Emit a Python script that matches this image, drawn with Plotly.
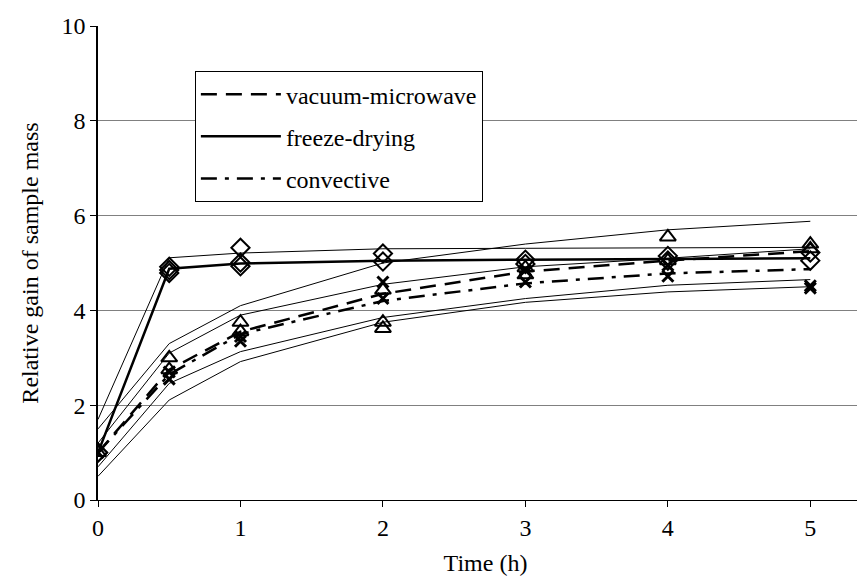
import plotly.graph_objects as go

times = [0, 0.5, 1, 2, 3, 4, 5]

# mean curves
vacuum_mean = [1.0, 2.75, 3.55, 4.35, 4.82, 5.05, 5.25]
freeze_mean = [1.0, 4.88, 4.99, 5.05, 5.07, 5.08, 5.10]
convective_mean = [1.0, 2.65, 3.50, 4.20, 4.57, 4.78, 4.87]

# thin envelope curves
vacuum_upper = [1.5, 3.30, 4.10, 5.00, 5.40, 5.70, 5.88]
vacuum_lower = [0.7, 2.46, 3.13, 3.85, 4.25, 4.53, 4.65]
convective_upper = [1.2, 3.10, 3.90, 4.55, 4.92, 5.10, 5.30]
convective_lower = [0.5, 2.11, 2.92, 3.75, 4.17, 4.39, 4.50]
freeze_upper = [1.7, 5.11, 5.21, 5.30, 5.31, 5.32, 5.33]

# measured points
freeze_t = [0, 0, 0.5, 0.5, 0.5, 1, 1, 1, 2, 2, 3, 3, 4, 4, 5, 5]
freeze_v = [1.0, 1.0, 4.92, 4.85, 4.79, 5.32, 5.01, 4.93, 5.20, 5.03, 5.07, 4.98, 5.15, 5.05, 5.22, 5.05]
vacuum_t = [0, 0.5, 0.5, 1, 1, 2, 2, 2, 3, 3, 4, 4, 5, 5]
vacuum_v = [1.0, 3.00, 2.75, 3.75, 3.55, 4.43, 3.75, 3.62, 4.90, 4.75, 5.55, 5.05, 5.40, 5.30]
convective_t = [0, 0.5, 0.5, 1, 1, 2, 2, 3, 3, 4, 4, 5, 5]
convective_v = [1.0, 2.55, 2.70, 3.45, 3.35, 4.60, 4.25, 4.85, 4.60, 4.95, 4.72, 4.52, 4.47]

y_ticks = [0, 2, 4, 6, 8, 10]
x_ticks = [0, 1, 2, 3, 4, 5]

FONT = "Liberation Serif, Times New Roman, serif"
FS = 24
fig = go.Figure()

for ys in [vacuum_upper, vacuum_lower, convective_upper, convective_lower, freeze_upper]:
    fig.add_trace(go.Scatter(x=times, y=ys, mode="lines", line=dict(color="black", width=1),
                             showlegend=False, hoverinfo="skip"))

fig.add_trace(go.Scatter(x=vacuum_t, y=vacuum_v, mode="markers", showlegend=False,
                         marker=dict(symbol="triangle-up-open", size=14, color="black", line=dict(width=2))))
fig.add_trace(go.Scatter(x=freeze_t, y=freeze_v, mode="markers", showlegend=False,
                         marker=dict(symbol="diamond-open", size=14, color="black", line=dict(width=2))))
fig.add_trace(go.Scatter(x=convective_t, y=convective_v, mode="markers", showlegend=False,
                         marker=dict(symbol="x-thin", size=11, color="black", line=dict(width=3, color="black"))))

fig.add_trace(go.Scatter(x=times, y=vacuum_mean, mode="lines", name="vacuum-microwave", legendgroup="a",
                         line=dict(color="black", width=2.5, dash="16px,9px")))
fig.add_trace(go.Scatter(x=times, y=freeze_mean, mode="lines", name="freeze-drying", legendgroup="b",
                         line=dict(color="black", width=2.5)))
fig.add_trace(go.Scatter(x=times, y=convective_mean, mode="lines", name="convective", legendgroup="c",
                         line=dict(color="black", width=2.5, dash="16px,8px,4px,8px")))

fig.update_layout(
    width=865, height=586,
    margin=dict(l=90, r=0, t=18, b=94),
    paper_bgcolor="white", plot_bgcolor="white",
    font=dict(family=FONT, size=FS, color="black"),
    showlegend=True,
    legend=dict(x=0.125, y=0.905, xanchor="left", yanchor="top",
                bordercolor="black", borderwidth=1, bgcolor="white",
                font=dict(family=FONT, size=FS), itemwidth=80,
                traceorder="grouped", tracegroupgap=8),
    xaxis=dict(range=[0, 5.44], tickvals=x_ticks, ticktext=[str(v) for v in x_ticks],
               showgrid=False, zeroline=False, showline=True, linecolor="black", linewidth=1,
               ticks="outside", ticklen=6, tickcolor="black", automargin=False,
               title=dict(text="Time (h)", font=dict(family=FONT, size=FS), standoff=14)),
    yaxis=dict(range=[0, 10], tickvals=y_ticks, ticktext=[str(v) for v in y_ticks],
               showgrid=True, gridcolor="#808080", gridwidth=1, zeroline=False,
               showline=True, linecolor="black", linewidth=1.5,
               ticks="outside", ticklen=6, tickcolor="black", automargin=False,
               title=dict(text="Relative gain of sample mass", font=dict(family=FONT, size=FS), standoff=16)),
)
fig.write_html("out.html")
